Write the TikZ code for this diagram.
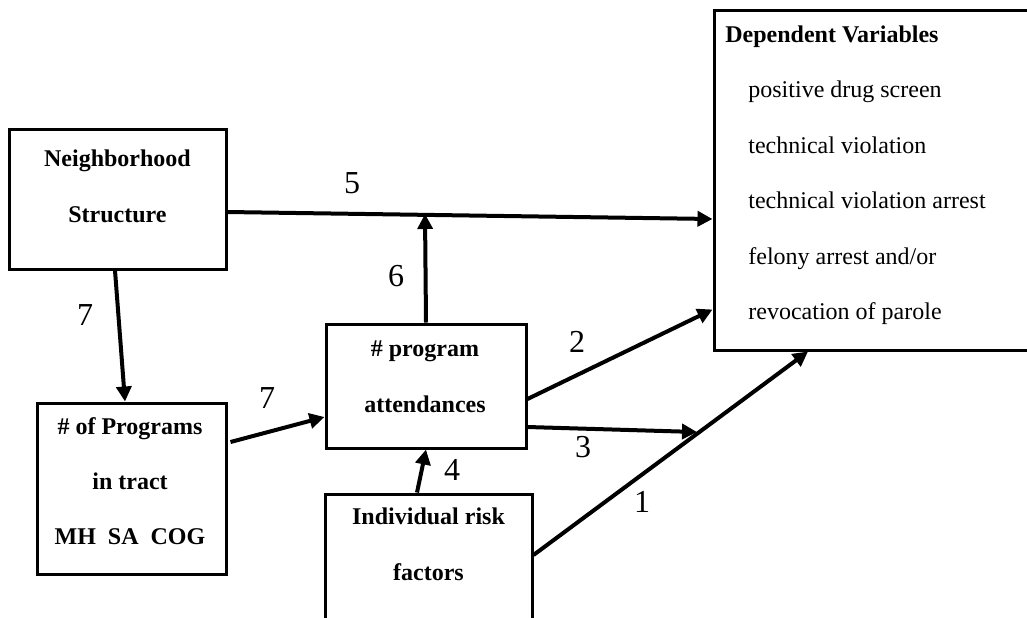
\documentclass[tikz,border=0pt]{standalone}
\usepackage{fontspec}
\setmainfont{Liberation Serif}
\usetikzlibrary{arrows.meta}

\begin{document}
\begin{tikzpicture}[x=0.5pt,y=-0.5pt,
	box/.style={draw,line width=1.5pt,inner sep=0pt},
	boxtext/.style={inner sep=0pt,align=center,font=\fontsize{12}{28}\selectfont\bfseries},
	arr/.style={line width=2pt,-{Triangle[length=7.5pt,width=7.5pt]}},
	num/.style={inner sep=0pt,font=\fontsize{16}{18}\selectfont}]
	\useasboundingbox (0,0) rectangle (1027,617);
	\clip (0,0) rectangle (1027,617);
	% boxes
	\node[box,minimum width=108.5pt,minimum height=70pt] (nbh) at (117.5,199) {};
	\node[box,minimum width=94.5pt,minimum height=85.5pt] (prog) at (131.5,488.5) {};
	\node[box,minimum width=100pt,minimum height=62pt] (att) at (426,386) {};
	\node[box,minimum width=103.5pt,minimum height=83pt] (risk) at (428.5,577) {};
	\node[box,minimum width=173pt,minimum height=170pt] (dv) at (887,180) {};
	% texts in the boxes
	\node[boxtext] (nbhtxt) at (117.5,186.5) {Neighborhood\\Structure};
	\node[boxtext,font=\fontsize{12}{27.5}\selectfont\bfseries] (progtxt) at (130,481.5)
		{\# of Programs\\in tract\\MH\enspace SA\enspace COG};
	\node[boxtext] (atttxt) at (425,377) {\# program\\attendances};
	\node[boxtext] (risktxt) at (428.5,544.5) {Individual risk\\factors};
	\node[anchor=west,inner sep=0pt,align=left,font=\fontsize{12}{27.75}\selectfont] (dvtxt) at (725,175)
		{\textbf{Dependent Variables}\\
		\hspace*{11.5pt}positive drug screen\\
		\hspace*{11.5pt}technical violation\\
		\hspace*{11.5pt}technical violation arrest\\
		\hspace*{11.5pt}felony arrest and/or\\
		\hspace*{11.5pt}revocation of parole};
	% paths
	\coordinate (meet) at (425,214);
	\coordinate (end3) at (697,432);
	\draw[arr] ([yshift=-6.5pt]nbh.east) -- ([yshift=-19.5pt]dv.west);
	\draw[arr] (att.north) -- (meet);
	\draw[arr] ([xshift=-1.25pt]nbh.south) -- ([xshift=-3.25pt]prog.north);
	\draw[arr] ([xshift=1.5pt,yshift=23.25pt]prog.east) -- ([yshift=-15.5pt]att.west);
	\draw[arr] ([xshift=-5.75pt]risk.north) -- (att.south);
	\draw[arr] ([yshift=-6.5pt]att.east) -- ([yshift=21pt]dv.south west);
	\draw[arr] ([yshift=-20.5pt]att.east) -- (end3);
	\draw[arr] ([yshift=11pt]risk.east) -- ([xshift=-39.5pt]dv.south);
	% numbers
	\node[num] (n5) at (352,183) {5};
	\node[num] (n6) at (396,276) {6};
	\node[num] (n7a) at (85,315) {7};
	\node[num] (n7b) at (267,398) {7};
	\node[num] (n2) at (577,342) {2};
	\node[num] (n3) at (583,447) {3};
	\node[num] (n4) at (452,470) {4};
	\node[num] (n1) at (642,502) {1};
\end{tikzpicture}
\end{document}
